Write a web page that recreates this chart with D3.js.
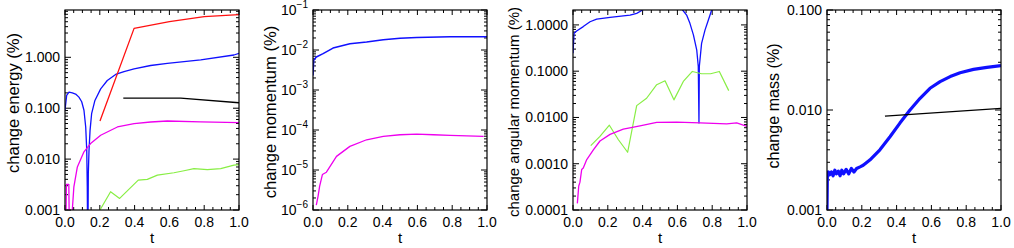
<!DOCTYPE html>
<html>
<head>
<meta charset="utf-8">
<script src="https://cdn.jsdelivr.net/npm/d3@7"></script>
<style>
  body { margin: 0; background: white; }
  svg { display: block; font-family: "Liberation Sans", Arial, sans-serif; }
</style>
</head>
<body>
<div id="chart"></div>
<script>
// ---- panel 1: change energy (%) ----
const enBlueT = [0, 0.0096, 0.023, 0.042, 0.061, 0.080, 0.096, 0.109, 0.119, 0.125, 0.128, 0.131, 0.134, 0.138, 0.144, 0.153, 0.172, 0.205, 0.243, 0.291, 0.339, 0.397, 0.492, 0.588, 0.780, 0.971, 1.0];
const enBlueV = [0.091, 0.178, 0.207, 0.2, 0.19, 0.165, 0.134, 0.091, 0.0427, 0.0149, 0.0029, 0.0001, 0.0052, 0.0149, 0.0367, 0.078, 0.142, 0.24, 0.35, 0.46, 0.525, 0.59, 0.69, 0.76, 0.89, 1.11, 1.2];
const enMagT = [0.004, 0.008, 0.022, 0.026, 0.036, 0.042, 0.051, 0.071, 0.109, 0.147, 0.205, 0.301, 0.397, 0.492, 0.588, 0.78, 1.0];
const enMagV = [0.0002, 0.0032, 0.0032, 0.0002, 0.0002, 0.001, 0.00286, 0.0070, 0.0139, 0.0202, 0.0294, 0.0428, 0.0497, 0.0536, 0.056, 0.054, 0.052];
const enRedT = [0.201, 0.397, 0.6, 0.8, 1.0];
const enRedV = [0.056, 3.7, 5.0, 6.3, 6.9];
const enGreenT = [0.201, 0.262, 0.314, 0.421, 0.473, 0.531, 0.626, 0.684, 0.741, 0.818, 0.895, 0.971, 1.0];
const enGreenV = [0.001, 0.00229, 0.00169, 0.00386, 0.0040, 0.00484, 0.0054, 0.0059, 0.0065, 0.0062, 0.0065, 0.0076, 0.0078];
const enBlackT = [0.335, 0.665, 1.0];
const enBlackV = [0.158, 0.158, 0.128];

// ---- panel 2: change momentum (%) ----
const moBlueT = [0, 0.004, 0.019, 0.058, 0.115, 0.212, 0.308, 0.404, 0.5, 0.596, 0.788, 1.0];
const moBlueV = [0.0023, 0.0055, 0.0067, 0.0081, 0.0112, 0.0143, 0.0158, 0.018, 0.0198, 0.0206, 0.0214, 0.0214];
const moMagT = [0.019, 0.029, 0.038, 0.054, 0.077, 0.135, 0.212, 0.308, 0.404, 0.5, 0.596, 0.692, 0.788, 0.981];
const moMagV = [1.33e-6, 2.2e-6, 3.9e-6, 7.7e-6, 8.8e-6, 2.19e-5, 3.9e-5, 5.7e-5, 6.9e-5, 7.6e-5, 7.9e-5, 7.6e-5, 7.3e-5, 6.9e-5];

// ---- panel 3: change angular momentum (%) ----
const amBlueT = [0, 0.006, 0.021, 0.059, 0.098, 0.136, 0.213, 0.289, 0.328, 0.366, 0.4, 0.45, 0.6, 0.63, 0.653, 0.672, 0.692, 0.711, 0.720, 0.724, 0.726, 0.739, 0.759, 0.778, 0.797, 0.85];
const amBlueV = [0.244, 0.66, 0.74, 0.92, 1.17, 1.34, 1.45, 1.56, 1.63, 1.78, 2.1, 4, 4, 2.1, 1.63, 1.08, 0.61, 0.29, 0.126, 0.0076, 0.126, 0.40, 0.78, 1.28, 2.1, 4];
const amGreenT = [0.102, 0.155, 0.209, 0.261, 0.314, 0.366, 0.423, 0.481, 0.529, 0.580, 0.634, 0.686, 0.739, 0.791, 0.841, 0.895];
const amGreenV = [0.00247, 0.0039, 0.0068, 0.0033, 0.00177, 0.018, 0.026, 0.051, 0.062, 0.024, 0.060, 0.0986, 0.088, 0.088, 0.0986, 0.038];
const amMagT = [0.025, 0.033, 0.04, 0.05, 0.059, 0.079, 0.117, 0.155, 0.213, 0.289, 0.385, 0.481, 0.596, 0.730, 0.883, 0.941, 1.0];
const amMagV = [1.39e-4, 3.3e-4, 4.0e-4, 7.5e-4, 8.1e-4, 1.23e-3, 2.0e-3, 3.1e-3, 4.3e-3, 5.6e-3, 6.6e-3, 7.8e-3, 7.9e-3, 7.6e-3, 7.3e-3, 7.6e-3, 6.4e-3];

// ---- panel 4: change mass (%) ----
const maBlueT = [0, 0.002, 0.008, 0.015, 0.025, 0.035, 0.045, 0.054, 0.065, 0.075, 0.085, 0.095, 0.11, 0.125, 0.14, 0.155, 0.17, 0.19, 0.208, 0.246, 0.304, 0.362, 0.419, 0.477, 0.535, 0.592, 0.65, 0.708, 0.765, 0.842, 0.919, 1.0];
const maBlueV = [0.001, 0.00215, 0.0024, 0.00225, 0.0024, 0.0022, 0.0025, 0.0023, 0.00245, 0.0022, 0.0025, 0.0023, 0.00255, 0.0023, 0.0026, 0.0024, 0.0026, 0.0027, 0.0028, 0.00316, 0.004, 0.0054, 0.0074, 0.0100, 0.0131, 0.0165, 0.0192, 0.0216, 0.0236, 0.0255, 0.0267, 0.0278];
const maBlackT = [0.333, 1.0];
const maBlackV = [0.0087, 0.0104];

const xTicks = [0, 0.2, 0.4, 0.6, 0.8, 1.0];
const xTickLabels = ["0.0", "0.2", "0.4", "0.6", "0.8", "1.0"];

const zip = (ts, vs) => ts.map((t, i) => [t, vs[i]]);

const panels = [
  { left: 65, label: "change energy (%)", labelX: 13, labelY: 103, labelSize: 16.6,
    domain: [0.001, 8.5], majors: [0.001, 0.01, 0.1, 1], fmt: d3.format(".3f"),
    series: [
      { d: zip(enBlueT, enBlueV), c: "#1010ff", w: 1.3 },
      { d: zip(enMagT, enMagV), c: "#ee00ee", w: 1.3 },
      { d: zip(enRedT, enRedV), c: "#ff1010", w: 1.3 },
      { d: zip(enGreenT, enGreenV), c: "#88ee44", w: 1.2 },
      { d: zip(enBlackT, enBlackV), c: "#000000", w: 1.3 }
    ] },
  { left: 313, label: "change momentum (%)", labelX: 270, labelY: 112, labelSize: 16.6,
    domain: [1e-6, 0.1], majors: [1e-6, 1e-5, 1e-4, 1e-3, 1e-2, 1e-1], fmt: null,
    series: [
      { d: zip(moBlueT, moBlueV), c: "#1010ff", w: 1.5 },
      { d: zip(moMagT, moMagV), c: "#ee00ee", w: 1.3 }
    ] },
  { left: 573, label: "change angular momentum (%)", labelX: 513, labelY: 112, labelSize: 15,
    domain: [1e-4, 2.1], majors: [1e-4, 1e-3, 1e-2, 0.1, 1], fmt: d3.format(".4f"),
    series: [
      { d: zip(amBlueT, amBlueV), c: "#1010ff", w: 1.3 },
      { d: zip(amGreenT, amGreenV), c: "#88ee44", w: 1.2 },
      { d: zip(amMagT, amMagV), c: "#ee00ee", w: 1.3 }
    ] },
  { left: 827, label: "change mass (%)", labelX: 773, labelY: 106, labelSize: 16.1,
    domain: [0.001, 0.1], majors: [0.001, 0.01, 0.1], fmt: d3.format(".3f"),
    series: [
      { d: zip(maBlueT, maBlueV), c: "#1010ff", w: 3.2 },
      { d: zip(maBlackT, maBlackV), c: "#000000", w: 1.2 }
    ] }
];

const W = 1014, H = 248;
const plotTop = 10, plotW = 174, plotH = 200;

const svg = d3.select("#chart").append("svg")
  .attr("width", W).attr("height", H);

panels.forEach((p, i) => {
  const x = d3.scaleLinear().domain([0, 1]).range([0, plotW]);
  const y = d3.scaleLog().domain(p.domain).range([plotH, 0]);

  const g = svg.append("g").attr("transform", `translate(${p.left},${plotTop})`);

  g.append("clipPath").attr("id", "clip" + i)
    .append("rect").attr("width", plotW).attr("height", plotH);

  // minor log ticks
  const minors = [];
  const k0 = Math.floor(Math.log10(p.domain[0])), k1 = Math.ceil(Math.log10(p.domain[1]));
  for (let k = k0; k <= k1; k++)
    for (let m = 2; m <= 9; m++) {
      const v = m * Math.pow(10, k);
      if (v > p.domain[0] && v < p.domain[1]) minors.push(v);
    }
  const xMinors = d3.range(1, 20).map(j => j * 0.05).filter(v => Math.abs(v * 5 - Math.round(v * 5)) > 1e-6);

  const tickLine = (sel) => sel.attr("stroke", "#000").attr("stroke-width", 1);

  // y ticks: left and right, inward
  g.selectAll(".ymaj").data(p.majors).join("line")
    .attr("x1", 0).attr("x2", 6).attr("y1", d => y(d)).attr("y2", d => y(d)).call(tickLine);
  g.selectAll(".ymajr").data(p.majors).join("line")
    .attr("x1", plotW).attr("x2", plotW - 6).attr("y1", d => y(d)).attr("y2", d => y(d)).call(tickLine);
  g.selectAll(".ymin").data(minors).join("line")
    .attr("x1", 0).attr("x2", 3).attr("y1", d => y(d)).attr("y2", d => y(d)).call(tickLine);
  g.selectAll(".yminr").data(minors).join("line")
    .attr("x1", plotW).attr("x2", plotW - 3).attr("y1", d => y(d)).attr("y2", d => y(d)).call(tickLine);

  // x ticks: bottom and top, inward
  g.selectAll(".xmaj").data(xTicks).join("line")
    .attr("x1", d => x(d)).attr("x2", d => x(d)).attr("y1", plotH).attr("y2", plotH - 5).call(tickLine);
  g.selectAll(".xmajt").data(xTicks).join("line")
    .attr("x1", d => x(d)).attr("x2", d => x(d)).attr("y1", 0).attr("y2", 5).call(tickLine);
  g.selectAll(".xmin").data(xMinors).join("line")
    .attr("x1", d => x(d)).attr("x2", d => x(d)).attr("y1", plotH).attr("y2", plotH - 3).call(tickLine);
  g.selectAll(".xmint").data(xMinors).join("line")
    .attr("x1", d => x(d)).attr("x2", d => x(d)).attr("y1", 0).attr("y2", 3).call(tickLine);

  // data lines
  const line = d3.line().x(d => x(d[0])).y(d => y(d[1]));
  const lg = g.append("g").attr("clip-path", `url(#clip${i})`);
  p.series.forEach(s => {
    lg.append("path").datum(s.d)
      .attr("d", line)
      .attr("fill", "none")
      .attr("stroke", s.c)
      .attr("stroke-width", s.w)
      .attr("stroke-linejoin", "round");
  });

  // frame
  g.append("rect").attr("width", plotW).attr("height", plotH)
    .attr("fill", "none").attr("stroke", "#000").attr("stroke-width", 1.2);

  // x tick labels
  g.selectAll(".xl").data(xTicks).join("text")
    .attr("x", d => x(d)).attr("y", plotH + 17)
    .attr("text-anchor", "middle").attr("font-size", 14)
    .text((d, j) => xTickLabels[j]);

  g.append("text").attr("x", plotW / 2).attr("y", plotH + 33)
    .attr("text-anchor", "middle").attr("font-size", 15).text("t");

  // y tick labels
  const yl = g.selectAll(".yl").data(p.majors).join("text")
    .attr("x", -5).attr("y", d => y(d) + 5)
    .attr("text-anchor", "end").attr("font-size", 14);
  if (p.fmt) {
    yl.text(d => p.fmt(d));
  } else {
    yl.each(function(d) {
      const t = d3.select(this);
      t.append("tspan").text("10");
      t.append("tspan").attr("font-size", 10).attr("dy", -7)
        .text("\u2212" + Math.round(-Math.log10(d)));
    });
  }

  // y axis title
  svg.append("text")
    .attr("transform", `translate(${p.labelX},${p.labelY}) rotate(-90)`)
    .attr("text-anchor", "middle").attr("dominant-baseline", "central")
    .attr("font-size", p.labelSize).text(p.label);
});
</script>
</body>
</html>
